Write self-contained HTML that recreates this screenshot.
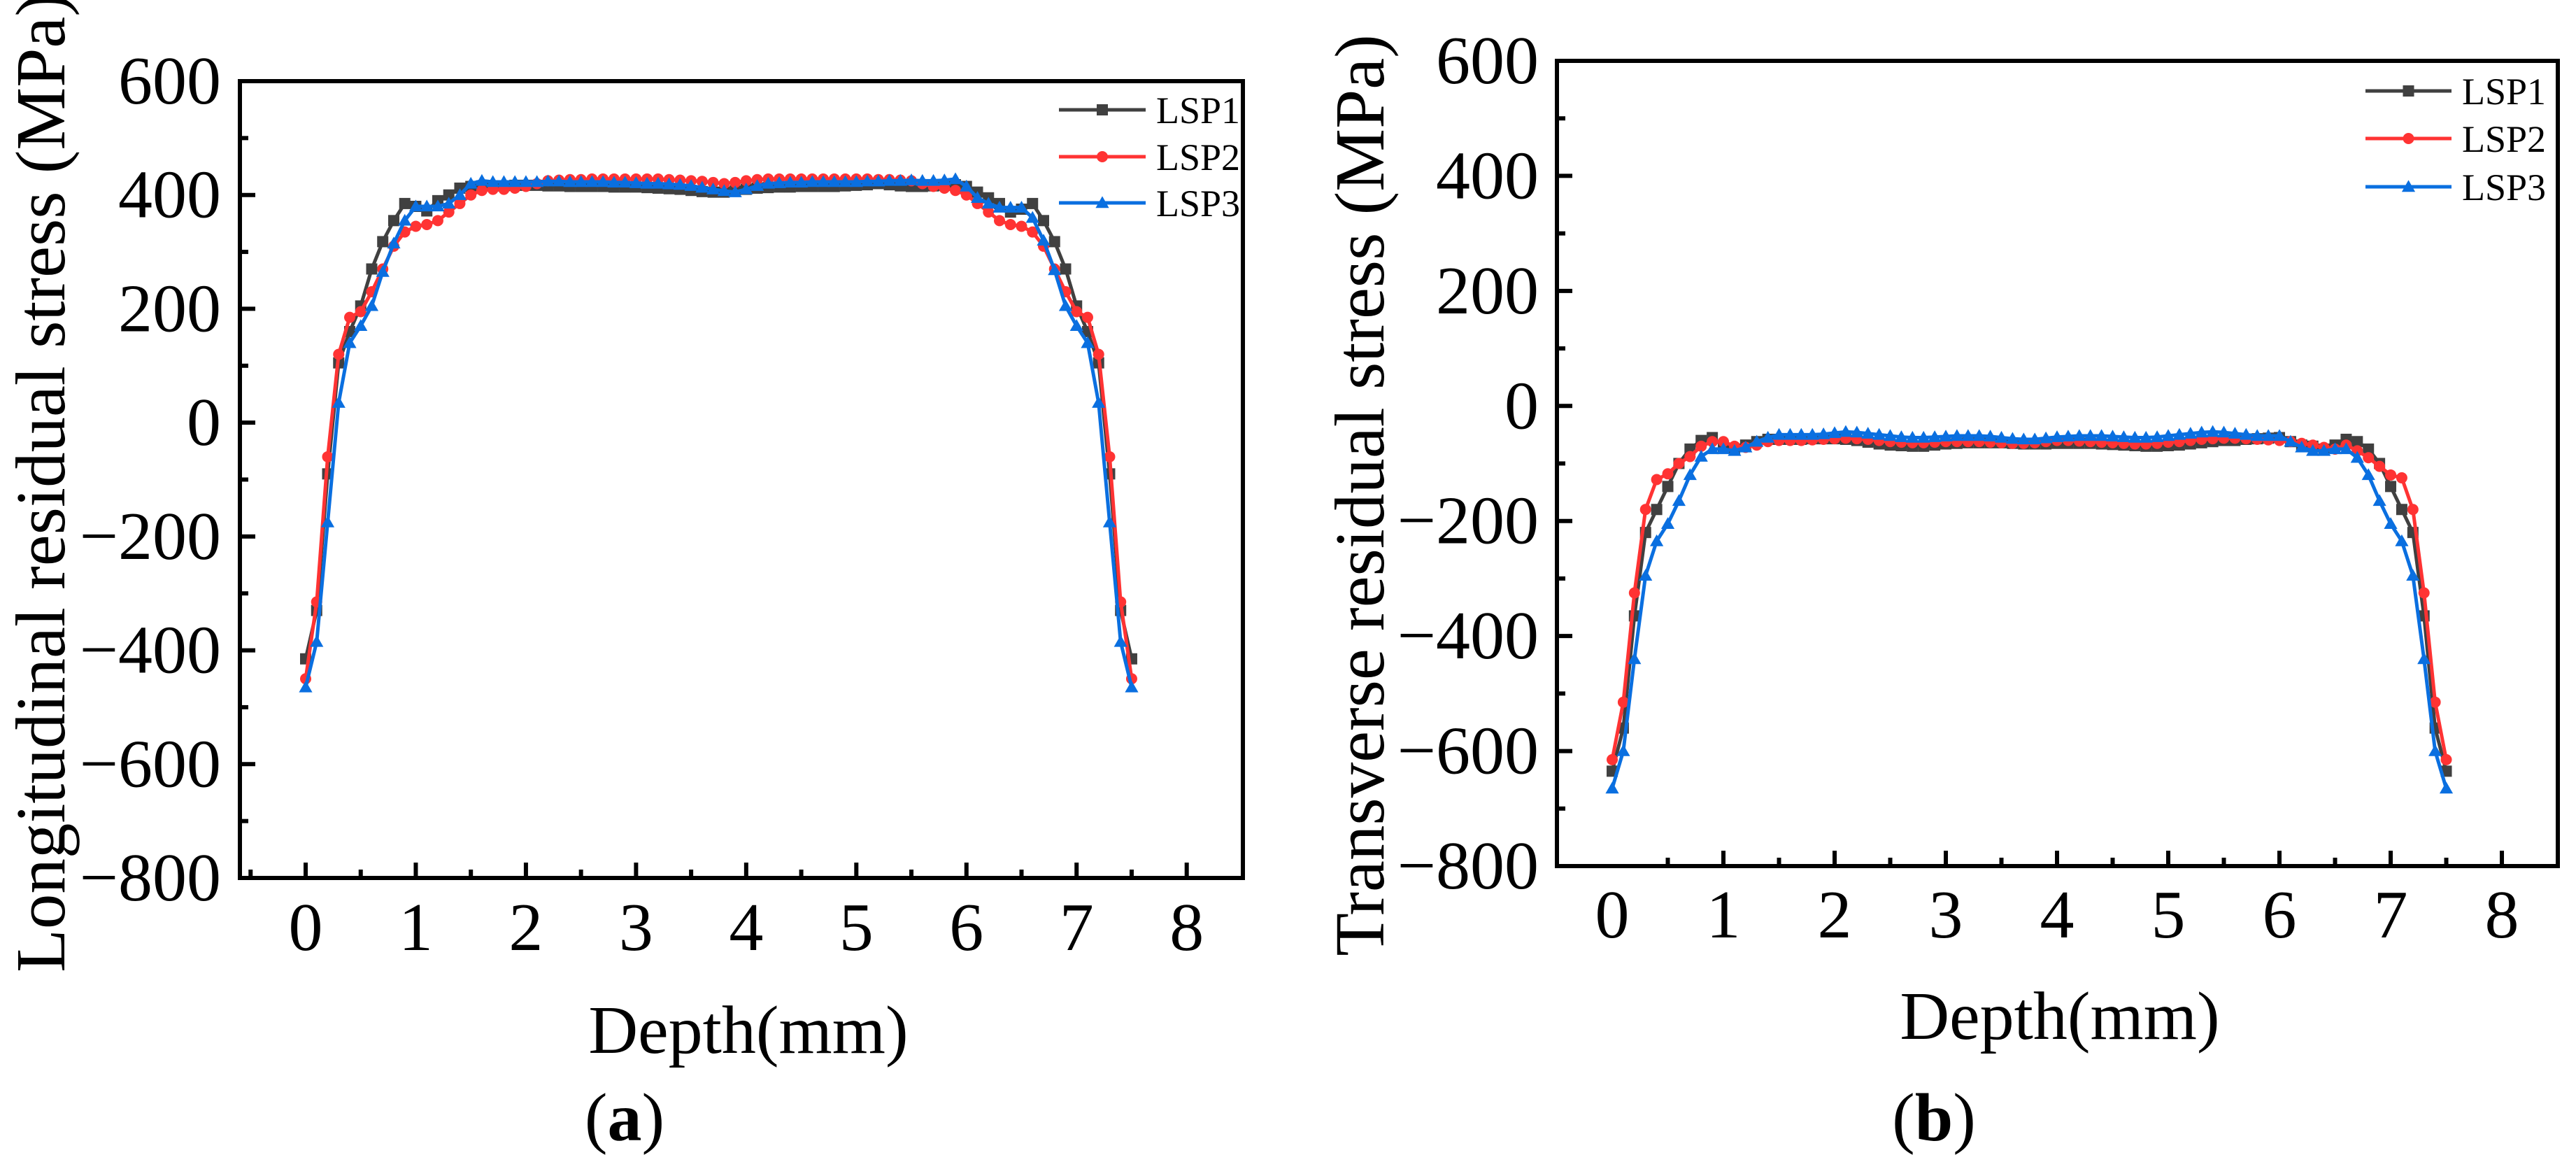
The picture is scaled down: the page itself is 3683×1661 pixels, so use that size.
<!DOCTYPE html>
<html><head><meta charset="utf-8">
<style>
html,body{margin:0;padding:0;background:#fff;}
svg{display:block;}
text{font-family:"Liberation Serif","Times New Roman",serif;fill:#000;}
</style></head>
<body>
<svg id="fig" width="3683" height="1661" viewBox="0 0 3683 1661" xmlns="http://www.w3.org/2000/svg" font-family="Liberation Serif, serif"></svg>
<script>
const depth = [];
for (let i = 0; i <= 75; i++) depth.push(+(i * 0.1).toFixed(1));
const seriesNames = ["LSP1", "LSP2", "LSP3"];
const xTicks = [0,1,2,3,4,5,6,7,8];
const yTicks = [600,400,200,0,-200,-400,-600,-800];

const longLSP1 = [-415,-330,-90,105,160,205,270,318,355,385,380,372,390,400,412,415,
416,416,416,417,417,417,416,416,415,415,415,415,414,414,414,413,412,411,410,408,
406,405,405,407,410,412,413,414,414,415,415,415,415,416,417,418,420,418,416,415,
415,416,417,418,415,405,395,385,370,375,385,355,318,270,205,160,105,-90,-330,-415];
const longLSP2 = [-450,-315,-60,120,185,195,230,270,310,335,345,348,355,370,385,400,
408,410,410,412,415,420,425,426,427,427,428,428,428,428,428,428,428,427,426,425,
424,422,420,422,425,427,428,428,428,428,428,428,428,428,428,428,427,427,426,425,
420,415,412,408,400,385,370,355,348,345,335,310,270,230,195,185,120,-60,-315,-450];
const longLSP3 = [-465,-385,-175,35,140,170,205,265,315,355,380,380,380,385,400,420,
425,423,423,423,423,423,424,424,423,423,423,423,422,422,421,420,420,419,418,416,
413,410,407,405,410,416,420,421,422,422,423,423,423,423,423,424,424,425,425,426,
425,425,426,428,415,395,385,378,378,378,360,320,268,205,170,140,35,-175,-385,-465];

const transLSP1 = [-635,-560,-365,-220,-180,-140,-100,-75,-60,-55,-70,-75,-68,-62,-58,-58,
-58,-58,-57,-57,-57,-58,-60,-63,-66,-68,-69,-70,-70,-68,-66,-65,-64,-64,-64,-64,
-65,-66,-66,-66,-65,-65,-65,-65,-66,-67,-68,-69,-70,-70,-69,-68,-66,-64,-62,-60,
-60,-58,-57,-56,-55,-62,-68,-70,-75,-68,-58,-62,-75,-100,-140,-180,-220,-365,-560,-635];
const transLSP2 = [-615,-515,-325,-180,-128,-118,-100,-88,-70,-62,-62,-70,-72,-68,-62,-60,
-60,-60,-59,-58,-57,-56,-57,-58,-60,-62,-63,-64,-64,-63,-62,-62,-62,-62,-63,-64,
-65,-65,-64,-62,-60,-60,-61,-62,-63,-64,-65,-66,-66,-65,-63,-62,-60,-58,-57,-56,
-56,-57,-58,-59,-60,-62,-65,-68,-72,-75,-68,-78,-90,-105,-120,-125,-180,-325,-515,-615];
const transLSP3 = [-665,-600,-440,-295,-235,-205,-165,-120,-88,-75,-75,-78,-72,-62,-55,-50,
-50,-50,-50,-49,-47,-45,-46,-48,-50,-52,-54,-55,-55,-54,-53,-52,-52,-52,-53,-55,
-57,-58,-58,-56,-54,-53,-52,-52,-52,-53,-54,-55,-55,-54,-52,-50,-48,-46,-45,-46,
-48,-50,-52,-52,-52,-62,-72,-78,-78,-75,-75,-90,-120,-165,-205,-235,-295,-440,-600,-665];

const colors = ["#404040", "#ff3333", "#0a6fe0"];
const markers = ["square", "circle", "triangle"];
const NS = "http://www.w3.org/2000/svg";
const svg = document.getElementById("fig");
const FONT = '"Liberation Serif", "Times New Roman", serif';

function el(tag, attrs, parent) {
  const e = document.createElementNS(NS, tag);
  for (const k in attrs) e.setAttribute(k, attrs[k]);
  (parent || svg).appendChild(e);
  return e;
}
function txt(s, attrs, parent) {
  const t = el("text", attrs, parent);
  t.setAttribute("font-family", FONT);
  t.style.fontFamily = FONT;
  t.textContent = s;
  return t;
}
function fmt(v) { return v < 0 ? "\u2212" + Math.abs(v) : String(v); }

function marker(g, type, cx, cy, color, s) {
  let m;
  if (type === "square") m = el("rect", {x: cx - s/2, y: cy - s/2, width: s, height: s, fill: color}, g);
  else if (type === "circle") m = el("circle", {cx: cx, cy: cy, r: s/2, fill: color}, g);
  else m = el("polygon", {points: `${cx},${cy - s*0.6} ${cx - s*0.6},${cy + s*0.45} ${cx + s*0.6},${cy + s*0.45}`, fill: color}, g);
  return m;
}

function drawChart(cfg) {
  const g = el("g", {});
  
  
  const X = v => cfg.x0 + (v - cfg.xmin) / (cfg.xmax - cfg.xmin) * (cfg.x1 - cfg.x0);
  const Y = v => cfg.y1 - (v - (-800)) / (600 - (-800)) * (cfg.y1 - cfg.y0);

  cfg.series.forEach((data, si) => {
    const sg = el("g", {}, g);
    
    
    const pts = data.map((v, i) => `${X(depth[i]).toFixed(1)},${Y(v).toFixed(1)}`).join(" ");
    const pl = el("polyline", {points: pts, fill: "none", stroke: colors[si], "stroke-width": 5, "stroke-linejoin": "round"}, sg);
    
    
    data.forEach((v, i) => {
      const m = marker(sg, markers[si], X(depth[i]), Y(v), colors[si], 16);
      
      
    });
  });

  const box = el("rect", {x: cfg.x0, y: cfg.y0, width: cfg.x1 - cfg.x0, height: cfg.y1 - cfg.y0, fill: "none", stroke: "#000", "stroke-width": 6}, g);
  
  

  for (let v = -700; v <= 500; v += 100) {
    const major = v % 200 === 0;
    const t = el("line", {x1: cfg.x0, x2: cfg.x0 + (major ? 22 : 12), y1: Y(v), y2: Y(v), stroke: "#000", "stroke-width": 6}, g);
    
    
  }
  yTicks.forEach(v => {
    const t = txt(fmt(v), {x: cfg.ylabX, y: Y(v) + 32, "font-size": 98, "text-anchor": "end"}, g);
    
    
  });
  for (let v = cfg.minorStart; v <= 8; v += 0.5) {
    const major = Math.abs(v - Math.round(v)) < 1e-6;
    const t = el("line", {x1: X(v), x2: X(v), y1: cfg.y1, y2: cfg.y1 - (major ? 22 : 12), stroke: "#000", "stroke-width": 6}, g);
    
    
  }
  xTicks.forEach(v => {
    const t = txt(fmt(v), {x: X(v), y: cfg.xlabY, "font-size": 98, "text-anchor": "middle"}, g);
    
    
  });
  const xt = txt("Depth(mm)", {x: cfg.xtX, y: cfg.xtY, "font-size": 98, "text-anchor": "middle"}, g);
  
  
  const yt = txt(cfg.ytitle, {x: 0, y: 0, "font-size": 101, "text-anchor": "middle", transform: `translate(${cfg.ytX},${cfg.ytY}) rotate(-90)`}, g);
  
  

  const lg = el("g", {}, g);
  
  
  seriesNames.forEach((n, i) => {
    const yy = cfg.legY[i];
    const eg = el("g", {}, lg);
    
    
    el("line", {x1: cfg.legX0, x2: cfg.legX1, y1: yy, y2: yy, stroke: colors[i], "stroke-width": 5}, eg);
    marker(eg, markers[i], (cfg.legX0 + cfg.legX1) / 2, yy, colors[i], 16);
    txt(n, {x: cfg.legX1 + 15, y: yy + 19, "font-size": 54}, eg);
  });
  const cap = el("text", {x: cfg.capX, y: 1630, "font-size": 98, "text-anchor": "middle", "font-family": FONT}, g);
  cap.innerHTML = `(<tspan font-weight="bold">${cfg.cap}</tspan>)`;
  
  
}

drawChart({name: "chart-longitudinal", x0: 343, x1: 1777, y0: 116, y1: 1255, xmin: -0.597, xmax: 8.51,
  series: [longLSP1, longLSP2, longLSP3], ylabX: 316, xlabY: 1358, minorStart: -0.5,
  xtX: 1070, xtY: 1505, ytitle: "Longitudinal residual stress (MPa)", ytX: 92, ytY: 690,
  legX0: 1514, legX1: 1638, legY: [157, 224, 290], capX: 893, cap: "a"});
drawChart({name: "chart-transverse", x0: 2226, x1: 3657, y0: 87, y1: 1238, xmin: -0.497, xmax: 8.503,
  series: [transLSP1, transLSP2, transLSP3], ylabX: 2200, xlabY: 1340, minorStart: 0.5,
  xtX: 2945, xtY: 1485, ytitle: "Transverse residual stress (MPa)", ytX: 1978, ytY: 708,
  legX0: 3382, legX1: 3505, legY: [130, 198, 267], capX: 2765, cap: "b"});
</script>
</body></html>
